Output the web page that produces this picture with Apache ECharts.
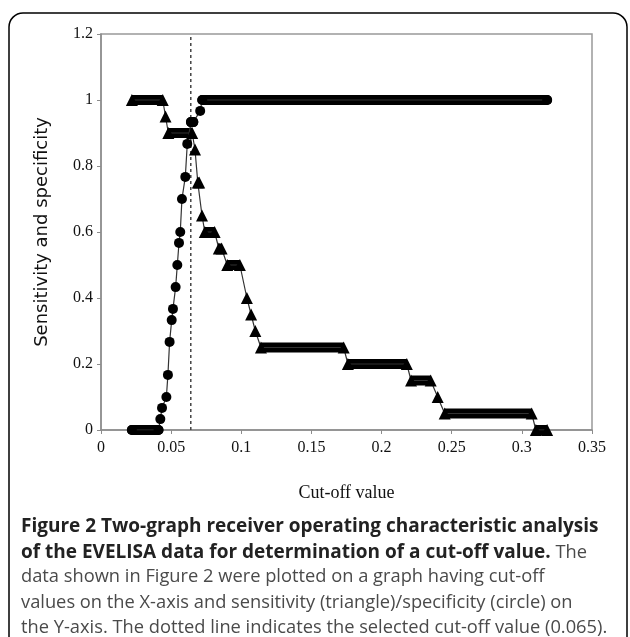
<!DOCTYPE html>
<html>
<head>
<meta charset="utf-8">
<script src="https://cdn.jsdelivr.net/npm/echarts@6/dist/echarts.min.js"></script>
<style>
html,body{margin:0;padding:0;background:#fff;}
#chart{width:630px;height:637px;}
</style>
</head>
<body>
<div id="chart"></div>
<script>
// Sensitivity (triangles)
const sensX = [0.022, 0.044, 0.046, 0.048, 0.065, 0.067, 0.069, 0.070, 0.072, 0.074, 0.081, 0.084, 0.086, 0.090, 0.099, 0.104, 0.107, 0.110, 0.114, 0.173, 0.176, 0.218, 0.221, 0.235, 0.240, 0.245, 0.307, 0.310, 0.318];
const sensY = [1, 1, 0.95, 0.9, 0.9, 0.85, 0.75, 0.75, 0.65, 0.6, 0.6, 0.55, 0.55, 0.5, 0.5, 0.4, 0.35, 0.3, 0.25, 0.25, 0.2, 0.2, 0.15, 0.15, 0.1, 0.05, 0.05, 0, 0];
// Specificity (circles)
const specX = [0.022, 0.041, 0.0423, 0.0435, 0.0466, 0.0477, 0.0489, 0.0504, 0.0513, 0.0532, 0.0544, 0.0556, 0.0565, 0.0577, 0.0601, 0.0615, 0.0641, 0.0658, 0.0707, 0.0722, 0.318];
const specY = [0, 0, 0.033, 0.067, 0.1, 0.167, 0.267, 0.333, 0.367, 0.433, 0.5, 0.567, 0.6, 0.7, 0.767, 0.867, 0.933, 0.933, 0.967, 1, 1];
// Selected cut-off (dotted line)
const cutoff = 0.064;
const xTicks = [0, 0.05, 0.1, 0.15, 0.2, 0.25, 0.3, 0.35];
const yTicks = [0, 0.2, 0.4, 0.6, 0.8, 1, 1.2];

const captionLines = [
  [{b: 'Figure 2 Two-graph receiver operating characteristic analysis'}],
  [{b: 'of the EVELISA data for determination of a cut-off value.'}, {r: ' The'}],
  [{r: 'data shown in Figure 2 were plotted on a graph having cut-off'}],
  [{r: 'values on the X-axis and sensitivity (triangle)/specificity (circle) on'}],
  [{r: 'the Y-axis. The dotted line indicates the selected cut-off value (0.065).'}]
];

function pts(xs, ys) { return xs.map((x, i) => [x, ys[i]]); }
function runs(xs, ys) {
  const out = [];
  let s = 0;
  for (let i = 1; i <= xs.length; i++) {
    if (i === xs.length || ys[i] !== ys[s]) {
      if (i - 1 > s) out.push([[xs[s], ys[s]], [xs[i - 1], ys[i - 1]]]);
      s = i;
    }
  }
  return out;
}

const series = [];
series.push({
  type: 'line', data: [[cutoff, 0], [cutoff, 1.2]], symbol: 'none', silent: true, z: 1,
  lineStyle: {color: '#444', width: 1.5, type: [3, 3]}
});
runs(sensX, sensY).forEach(r => series.push({
  type: 'line', data: r, symbol: 'none', silent: true, z: 2,
  lineStyle: {color: '#000', width: 10, cap: 'butt'}
}));
runs(specX, specY).forEach(r => series.push({
  type: 'line', data: r, symbol: 'none', silent: true, z: 2,
  lineStyle: {color: '#000', width: 10, cap: 'round'}
}));
series.push({
  name: 'Sensitivity', type: 'line', data: pts(sensX, sensY), symbol: 'triangle', symbolSize: 12,
  itemStyle: {color: '#000'}, lineStyle: {color: '#333', width: 1.2}, z: 3
});
series.push({
  name: 'Specificity', type: 'line', data: pts(specX, specY), symbol: 'circle', symbolSize: 10,
  itemStyle: {color: '#000'}, lineStyle: {color: '#333', width: 1.2}, z: 3
});

const rich = {
  b: {fontFamily: 'Open Sans', fontWeight: 'bold', fontSize: 19, fill: '#222', color: '#222'},
  r: {fontFamily: 'Open Sans', fontWeight: 'normal', fontSize: 18.3, fill: '#4a4a4a', color: '#4a4a4a'}
};
const captionTops = [517, 543, 568, 594, 619];
const graphics = [{
  type: 'rect', shape: {x: 9, y: 13, width: 618, height: 700, r: 14},
  style: {fill: 'none', stroke: '#000', lineWidth: 1.5}, silent: true
}];
captionLines.forEach((line, i) => {
  graphics.push({
    type: 'text', left: 21, top: captionTops[i], silent: true,
    style: {text: line.map(seg => { const k = Object.keys(seg)[0]; return '{' + k + '|' + seg[k] + '}'; }).join(''), rich: rich}
  });
});

const chart = echarts.init(document.getElementById('chart'));
chart.setOption({
  animation: false,
  backgroundColor: '#fff',
  grid: {left: 101, top: 34, width: 491, height: 396, show: true, borderColor: '#999', borderWidth: 1.5},
  xAxis: {
    type: 'value', min: xTicks[0], max: xTicks[xTicks.length - 1], interval: 0.05,
    name: 'Cut-off value', nameLocation: 'middle', nameGap: 54,
    nameTextStyle: {fontFamily: 'Liberation Serif', fontSize: 18, color: '#111'},
    axisLine: {lineStyle: {color: '#8c8c8c', width: 1.5}},
    axisTick: {show: true, length: 4, lineStyle: {color: '#8c8c8c'}},
    axisLabel: {fontFamily: 'Liberation Serif', fontSize: 16, color: '#111', margin: 10},
    splitLine: {show: false}
  },
  yAxis: {
    type: 'value', min: yTicks[0], max: yTicks[yTicks.length - 1], interval: 0.2,
    name: 'Sensitivity and specificity', nameLocation: 'middle', nameGap: 50,
    nameTextStyle: {fontFamily: 'DejaVu Sans', fontSize: 18, color: '#111'},
    axisLine: {show: true, lineStyle: {color: '#8c8c8c', width: 1.5}},
    axisTick: {show: true, length: 4, lineStyle: {color: '#8c8c8c'}},
    axisLabel: {fontFamily: 'Liberation Serif', fontSize: 16, color: '#111', margin: 8},
    splitLine: {show: false}
  },
  series: series,
  graphic: graphics
});
</script>
</body>
</html>
